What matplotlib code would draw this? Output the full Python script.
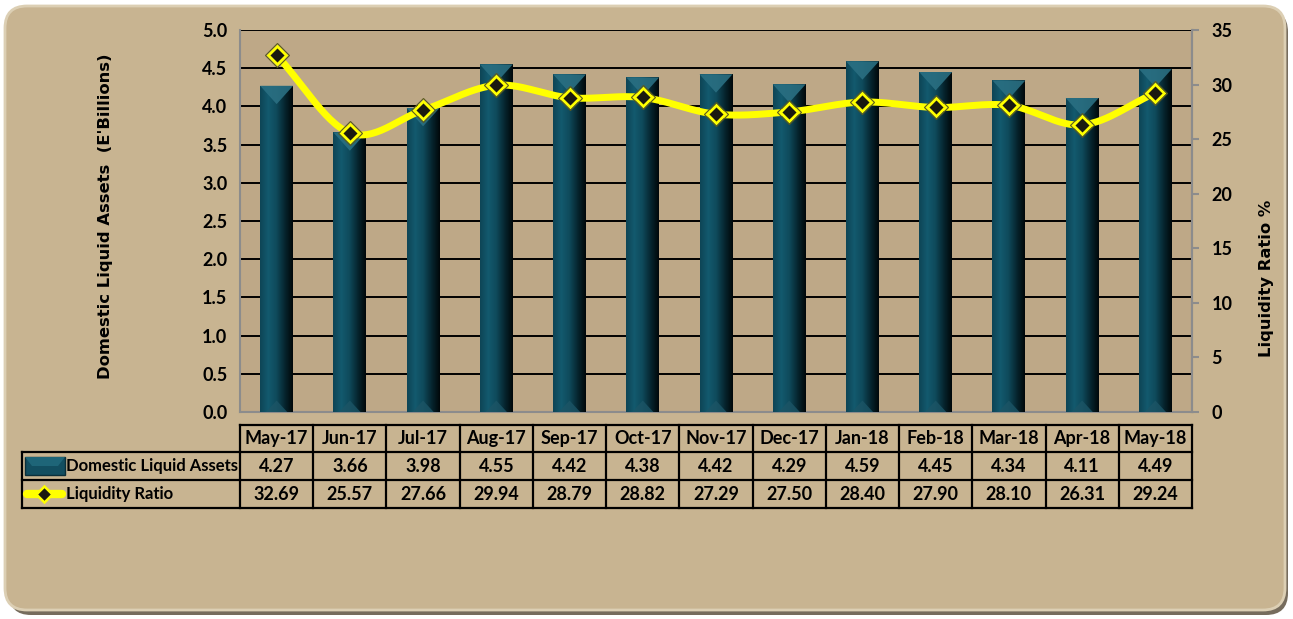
import numpy as np
import matplotlib
matplotlib.use("Agg")
import matplotlib.pyplot as plt
from matplotlib.patches import FancyBboxPatch, Polygon, Rectangle
from matplotlib.colors import LinearSegmentedColormap

months = ["May-17", "Jun-17", "Jul-17", "Aug-17", "Sep-17", "Oct-17", "Nov-17",
          "Dec-17", "Jan-18", "Feb-18", "Mar-18", "Apr-18", "May-18"]
assets = [4.27, 3.66, 3.98, 4.55, 4.42, 4.38, 4.42, 4.29, 4.59, 4.45, 4.34, 4.11, 4.49]
ratio = [32.69, 25.57, 27.66, 29.94, 28.79, 28.82, 27.29, 27.50, 28.40, 27.90, 28.10, 26.31, 29.24]
series_names = ["Domestic Liquid Assets", "Liquidity Ratio"]
left_ticks = [0.0, 0.5, 1.0, 1.5, 2.0, 2.5, 3.0, 3.5, 4.0, 4.5, 5.0]
right_ticks = [0, 5, 10, 15, 20, 25, 30, 35]

plt.rcParams['font.family'] = ['Lato', 'DejaVu Sans']
FW = "bold"
FS = 13

W, H = 1293, 619
fig = plt.figure(figsize=(W / 100, H / 100), dpi=100)
fig.patch.set_facecolor("white")

OUTER = "#C8B491"
PLOT = "#BEA887"
BAR = "#0F4B5D"
YEL = "#FFFF00"

bg = fig.add_axes([0, 0, 1, 1], zorder=0)
bg.set_xlim(0, W)
bg.set_ylim(H, 0)
bg.axis("off")
shadow = FancyBboxPatch((9, 10), W - 14, H - 14, boxstyle="round,pad=0,rounding_size=22",
                        facecolor="#5E5240", edgecolor="none", alpha=0.85)
bg.add_patch(shadow)
box = FancyBboxPatch((5, 6), W - 13, H - 15, boxstyle="round,pad=0,rounding_size=22",
                     facecolor=OUTER, edgecolor="#DCCFB4", linewidth=2)
bg.add_patch(box)

L, R, T, B = 240, 1192, 30, 412
ax = fig.add_axes([L / W, 1 - B / H, (R - L) / W, (B - T) / H], zorder=2)
ax.set_facecolor(PLOT)
n = len(months)
x = np.arange(n)
ax.set_xlim(-0.5, n - 0.5)
ax.set_ylim(0, 5)
ax.set_yticks(left_ticks)
ax.set_yticklabels([f"{v:.1f}" for v in left_ticks], fontsize=FS, fontweight=FW)
ax.tick_params(axis="y", length=0, pad=9)
ax.set_xticks([])
for y in left_ticks[1:]:
    ax.axhline(y, color="black", lw=1.4, zorder=1)
ax.spines["top"].set_visible(False)
for s in ["left", "bottom", "right"]:
    ax.spines[s].set_color("#8C8C8C")
    ax.spines[s].set_linewidth(1.5)

bars = ax.bar(x, assets, width=0.45, color=BAR, zorder=3)
grad = np.linspace(0, 1, 64).reshape(1, -1)
cmap = LinearSegmentedColormap.from_list("barg", ["#0E4556", "#135A6E", "#0F4A5B", "#062630", "#01080A"])
for b in bars:
    x0, w, h = b.get_x(), b.get_width(), b.get_height()
    im = ax.imshow(grad, extent=(x0, x0 + w, 0, h), aspect="auto", cmap=cmap, zorder=3.1)
    im.set_clip_path(b)
    tri = Polygon([(x0, h), (x0 + w, h), (x0 + w / 2, h - 0.24)], closed=True,
                  facecolor="#2A6F82", edgecolor="none", zorder=3.2, alpha=0.9)
    ax.add_patch(tri)
    tri2 = Polygon([(x0 + 0.08, 0), (x0 + w - 0.08, 0), (x0 + w / 2, 0.15)], closed=True,
                   facecolor="#1C5566", edgecolor="none", zorder=3.2, alpha=0.8)
    ax.add_patch(tri2)

ax2 = ax.twinx()
ax2.set_ylim(0, 35)
ax2.set_yticks(right_ticks)
ax2.set_yticklabels([str(v) for v in right_ticks], fontsize=FS, fontweight=FW)
ax2.tick_params(axis="y", length=5, color="#8C8C8C", width=1.5, pad=9)
for s in ["top", "left", "bottom"]:
    ax2.spines[s].set_visible(False)
ax2.spines["right"].set_color("#8C8C8C")
ax2.spines["right"].set_linewidth(1.5)

def catmull(xs, ys, steps=30):
    px = np.concatenate([[2 * xs[0] - xs[1]], xs, [2 * xs[-1] - xs[-2]]])
    py = np.concatenate([[2 * ys[0] - ys[1]], ys, [2 * ys[-1] - ys[-2]]])
    ox, oy = [], []
    for i in range(1, len(px) - 2):
        t = np.linspace(0, 1, steps, endpoint=False)
        for arr, out in ((px, ox), (py, oy)):
            p0, p1, p2, p3 = arr[i - 1], arr[i], arr[i + 1], arr[i + 2]
            out.extend(0.5 * ((2 * p1) + (-p0 + p2) * t + (2 * p0 - 5 * p1 + 4 * p2 - p3) * t ** 2
                              + (-p0 + 3 * p1 - 3 * p2 + p3) * t ** 3))
    ox.append(xs[-1]); oy.append(ys[-1])
    return np.array(ox), np.array(oy)

sx, sy = catmull(x.astype(float), np.array(ratio, dtype=float))
ax2.plot(sx, sy, color=YEL, lw=5, solid_capstyle="round", zorder=4)
ax2.plot(x, ratio, linestyle="none", marker="D", markersize=9, markerfacecolor="#1A1A10",
         markeredgecolor=YEL, markeredgewidth=2, zorder=5)
ax2.plot(x, ratio, linestyle="none", marker="D", markersize=12, markerfacecolor="none",
         markeredgecolor="#5A5A20", markeredgewidth=0.8, zorder=5)

ax.set_zorder(2)
ax2.set_zorder(3)
ax2.patch.set_visible(False)

fig.text(106 / W, 1 - 216 / H, "Domestic Liquid Assets  (E'Billions)", rotation=90,
         ha="center", va="center", fontsize=11.8, fontweight="bold", family="DejaVu Sans")
fig.text(1266 / W, 1 - 278 / H, "Liquidity Ratio %", rotation=90,
         ha="center", va="center", fontsize=11.8, fontweight="bold", family="DejaVu Sans")

tb = fig.add_axes([0, 0, 1, 1], zorder=4)
tb.set_xlim(0, W)
tb.set_ylim(H, 0)
tb.axis("off")
cw = (R - L) / n
rows_y = [425, 452, 480, 508]
lab_x0 = 22
lk = dict(color="black", lw=1.6)
tb.plot([L, R], [rows_y[0], rows_y[0]], **lk)
for yy in rows_y[1:]:
    tb.plot([lab_x0, R], [yy, yy], **lk)
tb.plot([lab_x0, lab_x0], [rows_y[1], rows_y[3]], **lk)
for i in range(n + 1):
    xx = L + i * cw
    tb.plot([xx, xx], [rows_y[0], rows_y[3]], **lk)
tk = dict(ha="center", va="center", fontsize=FS, fontweight=FW)
for i, m in enumerate(months):
    cx = L + (i + 0.5) * cw
    tb.text(cx, (rows_y[0] + rows_y[1]) / 2, m, **tk)
    tb.text(cx, (rows_y[1] + rows_y[2]) / 2, f"{assets[i]:.2f}", **tk)
    tb.text(cx, (rows_y[2] + rows_y[3]) / 2, f"{ratio[i]:.2f}", **tk)
tb.add_patch(Rectangle((25, 457), 40, 18, facecolor="#124E60", edgecolor="#0A2F3A", lw=1))
tb.add_patch(Polygon([(25, 457), (65, 457), (58, 466), (32, 466)], facecolor="#1E6578", edgecolor="none"))
tb.plot([27, 62], [494, 494], color=YEL, lw=6, solid_capstyle="round")
tb.plot([44], [494], marker="D", markersize=8, markerfacecolor="#1A1A10", markeredgecolor=YEL, markeredgewidth=1.8)
tb.text(66, (rows_y[1] + rows_y[2]) / 2, series_names[0], ha="left", va="center", fontsize=12, fontweight=FW)
tb.text(66, (rows_y[2] + rows_y[3]) / 2, series_names[1], ha="left", va="center", fontsize=12, fontweight=FW)

fig.savefig("out.png", dpi=100)
